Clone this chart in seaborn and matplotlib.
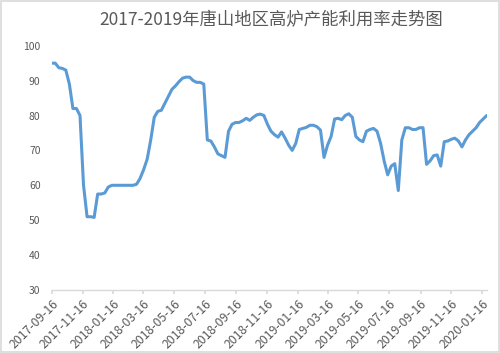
import numpy as np
import pandas as pd
import matplotlib
matplotlib.use("Agg")
import matplotlib.pyplot as plt
import matplotlib.dates as mdates
from matplotlib.patches import Rectangle
import seaborn as sns

title = "2017-2019年唐山地区高炉产能利用率走势图"
start_date = "2017-09-16"
tick_labels = ["2017-09-16", "2017-11-16", "2018-01-16", "2018-03-16", "2018-05-16",
               "2018-07-16", "2018-09-16", "2018-11-16", "2019-01-16", "2019-03-16",
               "2019-05-16", "2019-07-16", "2019-09-16", "2019-11-16", "2020-01-16"]
y_ticks = [30, 40, 50, 60, 70, 80, 90, 100]

utilization = [
    95.0, 95.0, 93.7, 93.5, 93.0, 89.0, 82.0, 82.0, 80.0, 60.0,
    51.0, 51.0, 50.8, 57.5, 57.5, 57.8, 59.5, 60.0, 60.0, 60.0,
    60.0, 60.0, 60.0, 60.0, 60.3, 62.0, 64.5, 67.5, 73.0, 79.5,
    81.2, 81.5, 83.5, 85.5, 87.5, 88.5, 89.7, 90.7, 91.0, 91.0,
    90.0, 89.5, 89.5, 89.0, 73.0, 72.7, 71.0, 69.0, 68.5, 68.0,
    75.5, 77.5, 78.0, 78.0, 78.5, 79.2, 78.6, 79.5, 80.2, 80.4,
    80.0, 77.5, 75.5, 74.5, 73.8, 75.3, 73.5, 71.5, 70.0, 72.0,
    76.0, 76.3, 76.6, 77.2, 77.2, 76.8, 75.8, 68.0, 71.5, 74.0,
    79.0, 79.2, 78.8, 80.0, 80.5, 79.5, 74.0, 73.0, 72.5, 75.5,
    76.0, 76.3, 75.5, 72.0, 67.0, 63.0, 65.5, 66.2, 58.5, 73.0,
    76.5, 76.5, 76.0, 76.0, 76.5, 76.5, 66.0, 67.0, 68.5, 68.7,
    65.5, 72.5, 72.7, 73.2, 73.5, 72.7, 71.0, 73.0, 74.5, 75.5,
    76.5, 78.0, 79.0, 80.0,
]

dates = pd.date_range(start_date, periods=len(utilization), freq="7D")
df = pd.DataFrame({"date": dates, "value": utilization})

sns.set_theme(style="white")
plt.rcParams["font.family"] = ["Noto Sans CJK SC", "DejaVu Sans"]

fig = plt.figure(figsize=(5.0, 3.53), dpi=100)
ax = fig.add_axes([0.1034, 0.1785, 0.87, 0.692])

sns.lineplot(data=df, x="date", y="value", ax=ax, color="#5B9BD5", linewidth=2.2)

ax.set_ylim(30, 100)
ax.set_yticks(y_ticks)
ax.set_yticklabels([str(v) for v in y_ticks], color="#595959", fontsize=7.5)

tick_dates = pd.to_datetime(tick_labels)
ax.set_xlim(tick_dates[0], dates[-1])
ax.set_xticks(tick_dates)
ax.set_xticklabels(tick_labels, rotation=45, ha="right", rotation_mode="anchor",
                   color="#595959", fontsize=8.8)

ax.set_xlabel("")
ax.set_ylabel("")
for s in ["left", "right", "top"]:
    ax.spines[s].set_visible(False)
ax.spines["bottom"].set_color("#D9D9D9")
ax.spines["bottom"].set_linewidth(1.0)
ax.tick_params(axis="x", length=3, color="#D9D9D9", pad=2, bottom=True)
ax.tick_params(axis="y", length=0, pad=8)
ax.grid(False)

fig.text(0.542, 0.942, title, ha="center", va="center", fontsize=12.5, color="#595959")

fig.patches.append(Rectangle((0.002, 0.003), 0.995, 0.993, transform=fig.transFigure,
                             fill=False, edgecolor="#D9D9D9", linewidth=1.2))

fig.savefig("out.png", dpi=100)
